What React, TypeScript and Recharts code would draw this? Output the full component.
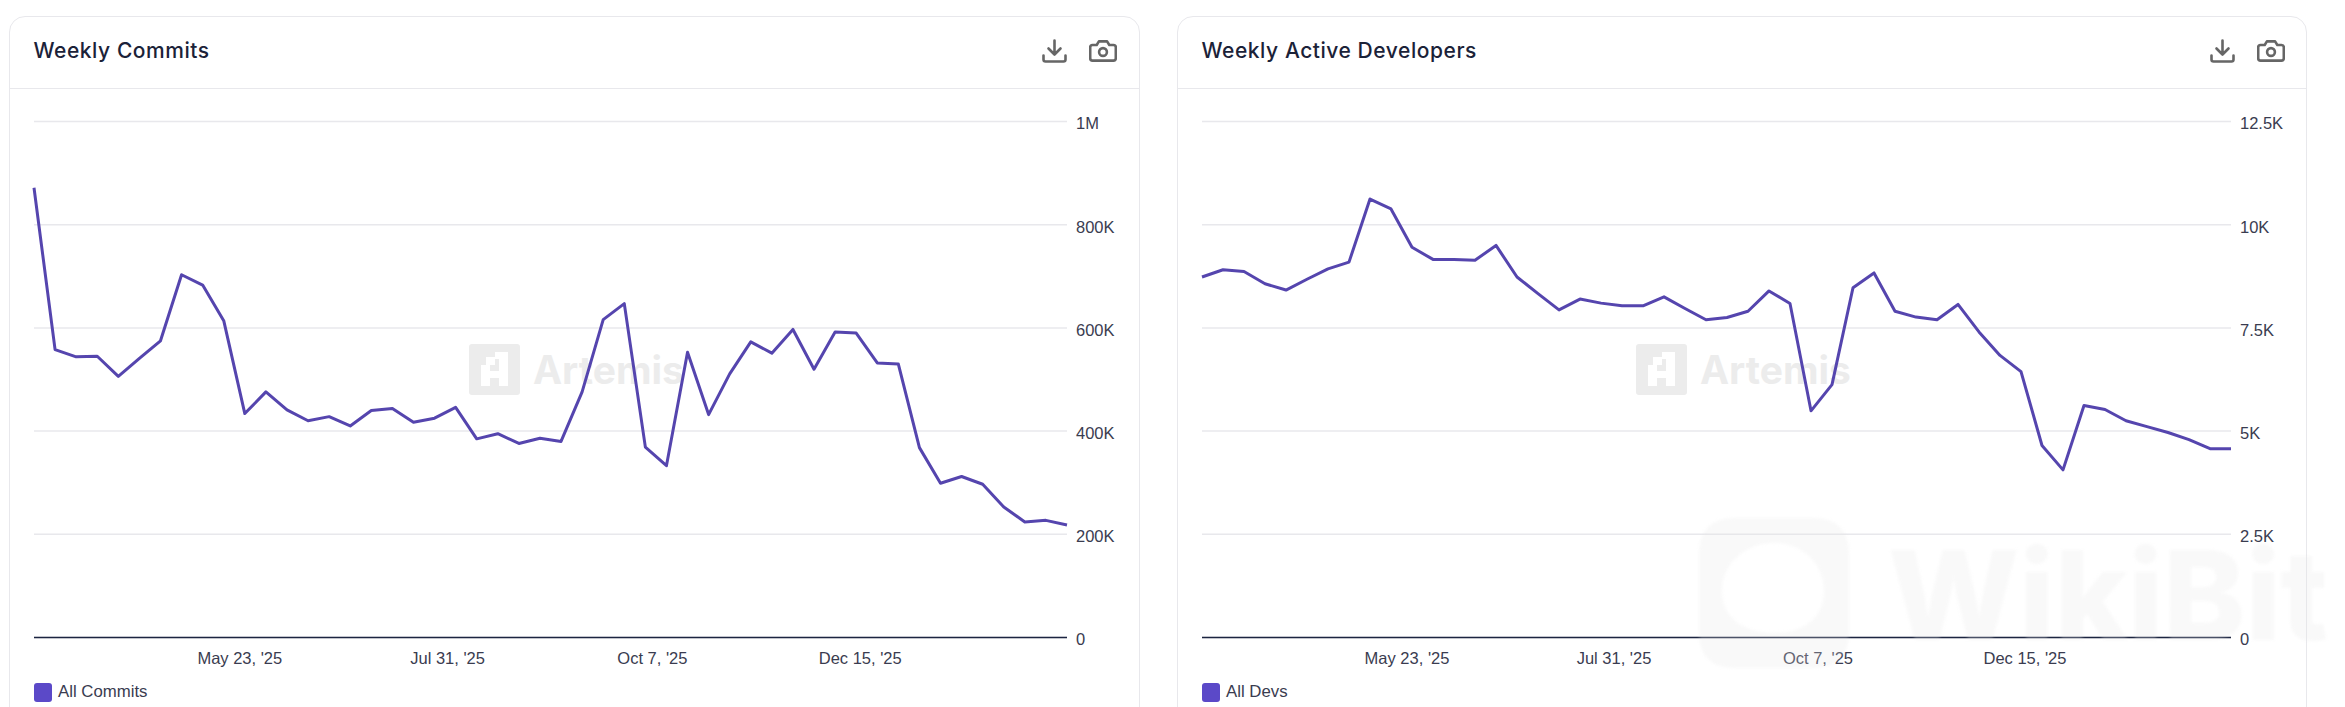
import React from 'react';
import {
  LineChart, Line, XAxis, YAxis, CartesianGrid, Legend,
} from 'recharts';

const weekDates = [
  '2025-03-16', '2025-03-23', '2025-03-30', '2025-04-06', '2025-04-13', '2025-04-20', '2025-04-27',
  '2025-05-04', '2025-05-11', '2025-05-18', '2025-05-25', '2025-06-01', '2025-06-08', '2025-06-15',
  '2025-06-22', '2025-06-29', '2025-07-06', '2025-07-13', '2025-07-20', '2025-07-27', '2025-08-03',
  '2025-08-10', '2025-08-17', '2025-08-24', '2025-08-31', '2025-09-07', '2025-09-14', '2025-09-21',
  '2025-09-28', '2025-10-05', '2025-10-12', '2025-10-19', '2025-10-26', '2025-11-02', '2025-11-09',
  '2025-11-16', '2025-11-23', '2025-11-30', '2025-12-07', '2025-12-14', '2025-12-21', '2025-12-28',
  '2026-01-04', '2026-01-11', '2026-01-18', '2026-01-25', '2026-02-01', '2026-02-08', '2026-02-15',
  '2026-02-22',
];

const allCommits = [
  871600, 558000, 544000, 545000, 506000, 541000, 575000, 703000, 683000, 614000,
  434000, 476000, 441000, 420000, 428000, 410000, 440000, 444000, 417000, 425000,
  446000, 385000, 395000, 376000, 386000, 380000, 476000, 616000, 647000, 369000,
  333000, 553000, 432000, 511000, 573000, 551000, 597000, 520000, 592000, 590000,
  532000, 530000, 368000, 299000, 312000, 297000, 253000, 224000, 227000, 218000,
];

const allDevs = [
  8734, 8908, 8865, 8570, 8417, 8679, 8930, 9094, 10622, 10382,
  9454, 9159, 9159, 9138, 9498, 8734, 8330, 7937, 8199, 8100,
  8035, 8035, 8253, 7969, 7697, 7751, 7904, 8395, 8090, 5491,
  6125, 8472, 8832, 7904, 7762, 7697, 8068, 7402, 6834, 6441,
  4651, 4061, 5622, 5524, 5251, 5109, 4967, 4793, 4574, 4574,
];

const dateTicks = ['2025-05-23', '2025-07-31', '2025-10-07', '2025-12-15'];
const commitTicks = [0, 200000, 400000, 600000, 800000, 1000000];
const devTicks = [0, 2500, 5000, 7500, 10000, 12500];

const LINE_COLOR = '#5545ae';
const SWATCH_COLOR = '#5b49c8';
const TEXT_COLOR = '#3a3c50';
const FONT = '"Liberation Sans", Arial, sans-serif';

const toTime = (d: string) => Date.parse(d + 'T00:00:00Z');

const MONTHS = ['Jan', 'Feb', 'Mar', 'Apr', 'May', 'Jun', 'Jul', 'Aug', 'Sep', 'Oct', 'Nov', 'Dec'];

function formatDate(t: number) {
  const d = new Date(t);
  return `${MONTHS[d.getUTCMonth()]} ${d.getUTCDate()}, '${String(d.getUTCFullYear()).slice(2)}`;
}

function formatValue(v: number) {
  if (v === 0) return '0';
  if (v >= 1000000) return `${v / 1000000}M`;
  return `${v / 1000}K`;
}

function DownloadIcon() {
  return (
    <svg width="25" height="24" viewBox="0 0 25 24" fill="none" stroke="#666" strokeWidth="2.6" strokeLinecap="round" strokeLinejoin="round">
      <path d="M12.500 1.500V15M6.500 9.500l6 6 6-6" />
      <path d="M1.500 16.500v4q0 2 2 2h18q2 0 2-2v-4" />
    </svg>
  );
}

function CameraIcon() {
  return (
    <svg width="28" height="22" viewBox="0 0 28 22" fill="none" stroke="#666" strokeWidth="2.6" strokeLinejoin="round">
      <path d="M3.500 5h4.200l2.200-3.600h8.200L20.300 5h4.200q2.300 0 2.300 2.300v10.900q0 2.400-2.300 2.400h-21q-2.300 0-2.300-2.400V7.300Q1.200 5 3.500 5z" />
      <circle cx="14" cy="12" r="3.900" />
    </svg>
  );
}

function ArtemisMark({ left }: { left: number }) {
  return (
    <>
      <svg
        width="51"
        height="51"
        viewBox="0 0 51 51"
        style={{ position: 'absolute', left, top: 344 }}
      >
        <rect width="51" height="51" rx="3" fill="#ececec" />
        <path
          d="M26 8H39V42H30V34H21V42H12V21H17V13H26ZM21 21V27H30V15H26V21Z"
          fill="#fff"
          fillRule="evenodd"
        />
      </svg>
      <div
        style={{
          position: 'absolute',
          left: left + 64,
          top: 347,
          fontFamily: '"Inter", sans-serif',
          fontWeight: 700,
          fontSize: 39,
          lineHeight: '46px',
          color: '#ececec',
        }}
      >
        Artemis
      </div>
    </>
  );
}

interface CardProps {
  left: number;
  cardWidth: number;
  plotRightGap: number;
  title: string;
  seriesName: string;
  values: number[];
  ticks: number[];
  maxValue: number;
}

function renderLegend(seriesName: string) {
  return (
    <div style={{ display: 'flex', alignItems: 'center', height: 30, fontFamily: FONT, fontSize: 16.8, color: TEXT_COLOR }}>
      <span style={{ width: 18, height: 19, borderRadius: 3, background: SWATCH_COLOR, marginRight: 6.5 }} />
      {seriesName}
    </div>
  );
}

function ChartCard({ left, cardWidth, title }: CardProps) {
  return (
    <div
      style={{
        position: 'absolute',
        left,
        top: 16,
        width: cardWidth,
        height: 720,
        boxSizing: 'border-box',
        border: '1px solid #e8e8ec',
        borderRadius: 16,
        background: '#fff',
      }}
    >
      <div
        style={{
          position: 'absolute',
          left: 0,
          right: 0,
          top: 0,
          height: 71,
          borderBottom: '1px solid #e8e8ec',
        }}
      />
      <div
        style={{
          position: 'absolute',
          left: 24,
          top: 20,
          fontFamily: '"Inter", sans-serif',
          fontWeight: 500,
          fontSize: 21,
          letterSpacing: 0.55,
          lineHeight: '28px',
          color: '#1b2238',
        }}
      >
        {title}
      </div>
      <div style={{ position: 'absolute', left: 1032, top: 22 }}><DownloadIcon /></div>
      <div style={{ position: 'absolute', left: 1079, top: 23 }}><CameraIcon /></div>
    </div>
  );
}

function ChartPlot({ left, plotRightGap, seriesName, values, ticks, maxValue }: CardProps) {
  const data = weekDates.map((d, i) => ({ time: toTime(d), value: values[i] }));
  const xTicks = dateTicks.map(toTime);

  return (
    <div style={{ position: 'absolute', left, top: 100 }}>
      <LineChart
        width={1130}
        height={607}
        data={data}
        margin={{ top: 21.5, right: plotRightGap, bottom: 0, left: 25 }}
      >
        <CartesianGrid horizontal vertical={false} stroke="#e8e8ec" strokeWidth={1.5} />
        <XAxis
          dataKey="time"
          type="number"
          scale="linear"
          domain={[toTime(weekDates[0]), toTime(weekDates[weekDates.length - 1])]}
          ticks={xTicks}
          tickFormatter={formatDate}
          axisLine={{ stroke: '#1c2541', strokeWidth: 1.5 }}
          tickLine={false}
          tick={{ fontSize: 16.5, fill: TEXT_COLOR, fontFamily: FONT, dx: 1 }}
          tickMargin={9}
          height={39.5}
          interval={0}
        />
        <YAxis
          orientation="right"
          domain={[0, maxValue]}
          ticks={ticks}
          tickFormatter={formatValue}
          axisLine={false}
          tickLine={false}
          tick={{ fontSize: 16.5, fill: TEXT_COLOR, fontFamily: FONT, dy: 2 }}
          tickMargin={9}
          tickSize={0}
          width={72}
          interval={0}
        />
        <Legend
          verticalAlign="bottom"
          align="left"
          content={() => renderLegend(seriesName)}
          wrapperStyle={{ left: 25, height: 30 }}
        />
        <Line
          type="linear"
          dataKey="value"
          name={seriesName}
          stroke={LINE_COLOR}
          strokeWidth={3}
          strokeLinejoin="round"
          dot={false}
          activeDot={false}
          isAnimationActive={false}
        />
      </LineChart>
    </div>
  );
}

const cards: CardProps[] = [
  { left: 8.5, cardWidth: 1131, plotRightGap: 0, title: 'Weekly Commits', seriesName: 'All Commits', values: allCommits, ticks: commitTicks, maxValue: 1000000 },
  { left: 1176.5, cardWidth: 1130, plotRightGap: 4, title: 'Weekly Active Developers', seriesName: 'All Devs', values: allDevs, ticks: devTicks, maxValue: 12500 },
];

export default function App() {
  return (
    <div style={{ position: 'fixed', left: 0, top: 0, width: 2345, height: 707, overflow: 'hidden', background: '#fff' }}>
      {cards.map((c) => (
        <ChartCard key={c.title} {...c} />
      ))}
      <ArtemisMark left={469} />
      <ArtemisMark left={1636} />
      {cards.map((c) => (
        <ChartPlot key={c.title} {...c} />
      ))}
      {/* faint overlay stamp from the source screenshot */}
      <svg
        width="150"
        height="150"
        viewBox="0 0 150 150"
        style={{ position: 'absolute', left: 1699, top: 518, filter: 'blur(1.5px)' }}
      >
        <path
          fillRule="evenodd"
          fill="rgba(228,228,228,0.24)"
          d="M36 0H114Q150 0 150 36V114Q150 150 114 150H36Q0 150 0 114V36Q0 0 36 0ZM75 25C46 25 23 46 23 73C23 100 46 115 75 115C104 115 125 100 125 73C125 46 104 25 75 25Z"
        />
      </svg>
      <div
        style={{
          position: 'absolute',
          left: 1888,
          top: 530,
          fontFamily: '"Inter", sans-serif',
          fontWeight: 800,
          fontSize: 124,
          lineHeight: '130px',
          color: 'rgba(228,228,228,0.24)',
          filter: 'blur(1.5px)',
        }}
      >
        WikiBit
      </div>
    </div>
  );
}
